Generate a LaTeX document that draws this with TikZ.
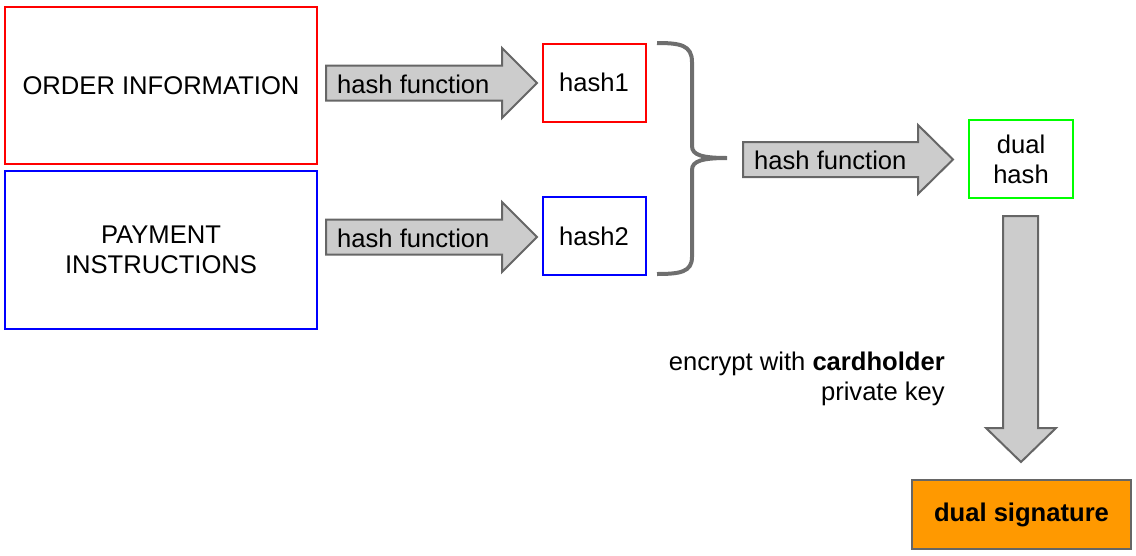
\documentclass[tikz,border=0pt]{standalone}
\usepackage{fontspec}
\setmainfont{Liberation Sans}
\definecolor{arrowfill}{HTML}{CCCCCC}
\definecolor{arrowline}{HTML}{666666}
\definecolor{bracecol}{HTML}{6E6E6E}
\definecolor{pure red}{HTML}{FF0000}
\definecolor{pure blue}{HTML}{0000FF}
\definecolor{pure green}{HTML}{00FF00}
\definecolor{sigorange}{HTML}{FF9900}
\tikzset{
  box/.style={draw, line width=2pt, inner sep=0pt, align=center, font=\fontsize{25.6}{30}\selectfont},
  fat/.style={draw=arrowline, fill=arrowfill, line width=2pt, line join=miter},
  lbl/.style={inner sep=0pt, font=\fontsize{25.6}{30}\selectfont},
}
\begin{document}
\begin{tikzpicture}[x=1pt,y=-1pt]
\useasboundingbox (0,0) rectangle (1136,555);
% boxes
\node[box, draw=pure red, minimum width=312pt, minimum height=157pt] (order) at (161,85.5) {ORDER INFORMATION};
\node[box, draw=pure blue, minimum width=312pt, minimum height=158pt] (payment) at (161,250) {PAYMENT\\INSTRUCTIONS};
\node[box, draw=pure red, minimum width=103pt, minimum height=78pt] (hashA) at (594,82.5) {hash1};
\node[box, draw=pure blue, minimum width=103pt, minimum height=78pt] (hashB) at (594,236) {hash2};
\node[box, draw=pure green, minimum width=104pt, minimum height=78pt] (dual) at (1021,159) {dual\\hash};
\node[box, draw=arrowline, fill=sigorange, minimum width=219pt, minimum height=69pt, font=\fontsize{25.6}{30}\selectfont\bfseries] (sig) at (1021.5,514.5) {dual signature};
% fat arrows
\draw[fat] (326,65.5) -- (502,65.5) -- (502,48) -- (537,83) -- (502,118) -- (502,100.5) -- (326,100.5) -- cycle;
\node[lbl, anchor=west] (hf1) at (337,84) {hash function};
\draw[fat] (326,219.5) -- (502,219.5) -- (502,202) -- (537,237) -- (502,272) -- (502,254.5) -- (326,254.5) -- cycle;
\node[lbl, anchor=west] (hf2) at (337,238) {hash function};
\draw[fat] (743,142) -- (918,142) -- (918,125) -- (953,159.5) -- (918,194) -- (918,177) -- (743,177) -- cycle;
\node[lbl, anchor=west] (hf3) at (754,160.5) {hash function};
\draw[fat] (1003,216) -- (1038,216) -- (1038,428) -- (1056,428) -- (1021,462) -- (986,428) -- (1003,428) -- cycle;
% brace
\draw[bracecol, line width=4pt] (657,43) .. controls (680,43) and (692,45) .. (692,62) -- (692,146)
  .. controls (692,155) and (702,158) .. (727,158)
  .. controls (702,158) and (692,161) .. (692,170) -- (692,257)
  .. controls (692,272) and (680,274) .. (657,274);
% encrypt text
\node[lbl, anchor=east, align=right] (enc) at (945,379) {encrypt with \textbf{cardholder}\\private key};
\end{tikzpicture}
\end{document}
